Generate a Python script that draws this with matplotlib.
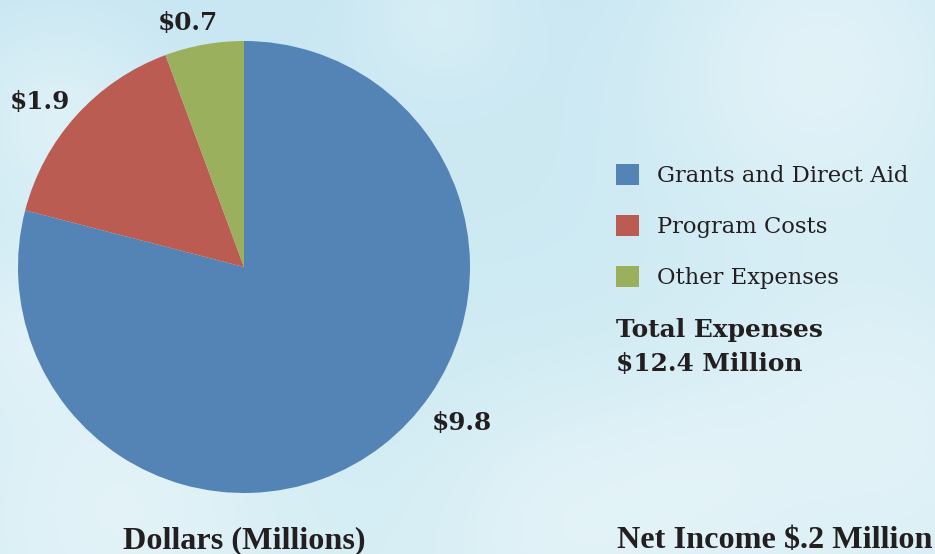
import numpy as np
import matplotlib
matplotlib.use("Agg")
import matplotlib.pyplot as plt

# data
categories = ["Grants and Direct Aid", "Program Costs", "Other Expenses"]
values = [9.8, 1.9, 0.7]
value_labels = ["$9.8", "$1.9", "$0.7"]
colors = ["#5484b6", "#bb5c53", "#9bb05d"]

W, H = 935, 554
fig = plt.figure(figsize=(W / 100, H / 100), dpi=100)

# sky background with soft clouds
bg = fig.add_axes([0, 0, 1, 1])
yy, xx = np.mgrid[0:H, 0:W]
top = np.array([200, 231, 242]) / 255.0
bot = np.array([212, 237, 244]) / 255.0
t = (yy / H)[..., None]
img = top * (1 - t) + bot * t
clouds = [(60, 120, 70, 0.35), (120, 500, 110, 0.35), (820, 60, 120, 0.45),
          (880, 420, 110, 0.35), (560, 520, 90, 0.3), (30, 330, 60, 0.3),
          (700, 480, 80, 0.25), (440, 10, 60, 0.25)]
for cx, cy, r, a in clouds:
    g = a * np.exp(-((xx - cx) ** 2 + (yy - cy) ** 2) / (2 * r ** 2))
    img = img * (1 - g[..., None]) + g[..., None]
bg.imshow(img, extent=[0, W, H, 0], aspect="auto")
bg.set_xlim(0, W)
bg.set_ylim(H, 0)
bg.axis("off")

# pie
cx, cy, r = 244, 267, 226
ax = fig.add_axes([(cx - r) / W, (H - cy - r) / H, 2 * r / W, 2 * r / H])
wedges, _ = ax.pie(values, colors=colors, startangle=90, counterclock=False,
                   radius=1, wedgeprops=dict(linewidth=0))
ax.set_xlim(-1, 1)
ax.set_ylim(-1, 1)
ax.set_aspect("equal")

label_pos = [(0.965, -0.69), (-0.905, 0.73), (-0.25, 1.08)]
for lab, (lx, ly) in zip(value_labels, label_pos):
    ax.text(lx, ly, lab, ha="center", va="center", fontsize=17.8,
            fontweight="bold", family="DejaVu Serif", color="#231f20",
            clip_on=False)

# legend
leg = fig.legend(wedges, categories, loc="upper left",
                 bbox_to_anchor=(596 / W, 1 - 144 / H), frameon=False,
                 prop=dict(family="DejaVu Serif", size=16.3),
                 handlelength=1.0, handleheight=1.0, handletextpad=0.81,
                 labelspacing=1.24, labelcolor="#231f20")

serif_bold = dict(family="DejaVu Serif", fontweight="bold", color="#231f20")
fig.text(616 / W, 1 - 330 / H, "Total Expenses", ha="left", va="center",
         fontsize=17.9, **serif_bold)
fig.text(616 / W, 1 - 364 / H, "$12.4 Million", ha="left", va="center",
         fontsize=17.9, **serif_bold)

cond_bold = dict(family="Liberation Serif", fontweight="bold", color="#231f20")
fig.text(123 / W, 1 - 541 / H, "Dollars (Millions)", ha="left", va="center",
         fontsize=23.2, **cond_bold)
fig.text(617 / W, 1 - 541 / H, "Net Income $.2 Million", ha="left",
         va="center", fontsize=23.2, **cond_bold)

fig.savefig("out.png", dpi=100)
